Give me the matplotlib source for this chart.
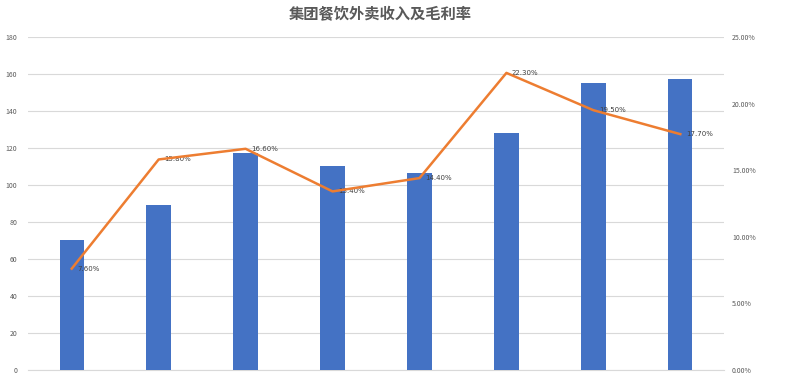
import matplotlib
matplotlib.use('Agg')
import matplotlib.pyplot as plt
from matplotlib.ticker import PercentFormatter

plt.rcParams['font.family'] = ['Noto Sans CJK SC', 'DejaVu Sans']

# 收入 (左轴) 与 毛利率 (右轴, %)
categories = ['1', '2', '3', '4', '5', '6', '7', '8']
revenue = [70, 89, 117, 110, 106.5, 128, 155, 157]
margin = [7.6, 15.8, 16.6, 13.4, 14.4, 22.3, 19.5, 17.7]
margin_labels = ['7.60%', '15.80%', '16.60%', '13.40%', '14.40%', '22.30%', '19.50%', '17.70%']

fig = plt.figure(figsize=(7.85, 3.77), dpi=100)
ax = fig.add_axes([0.036, 0.019, 0.886, 0.883])
x = list(range(len(categories)))

ax.bar(x, revenue, width=0.28, color='#4472C4', zorder=3)
ax.set_xlim(-0.5, len(categories) - 0.5)
ax.set_ylim(0, 180)
ax.set_yticks(range(0, 181, 20))
ax.grid(axis='y', color='#d9d9d9', linewidth=0.8, zorder=0)
ax.set_xticks([])
for s in ['top', 'right', 'left']:
    ax.spines[s].set_visible(False)
ax.spines['bottom'].set_color('#d9d9d9')
ax.tick_params(axis='y', length=0, labelsize=5, labelcolor='#595959', pad=8)

ax2 = ax.twinx()
ax2.plot(x, margin, color='#ED7D31', linewidth=1.8, zorder=4)
ax2.set_ylim(0, 25)
ax2.set_yticks(range(0, 26, 5))
ax2.yaxis.set_major_formatter(PercentFormatter(decimals=2))
ax2.tick_params(axis='y', length=0, labelsize=5, labelcolor='#595959', pad=6)
for s in ['top', 'right', 'left', 'bottom']:
    ax2.spines[s].set_visible(False)

for xi, m, lab in zip(x, margin, margin_labels):
    ax2.annotate(lab, (xi, m), xytext=(4, 0), textcoords='offset points',
                 fontsize=5, color='#404040', va='center', ha='left',
                 family=['DejaVu Sans'])

fig.text(0.485, 0.962, '集团餐饮外卖收入及毛利率', ha='center', va='center',
         fontsize=11, fontweight='heavy', color='#595959')

fig.savefig('out.png', dpi=100)
